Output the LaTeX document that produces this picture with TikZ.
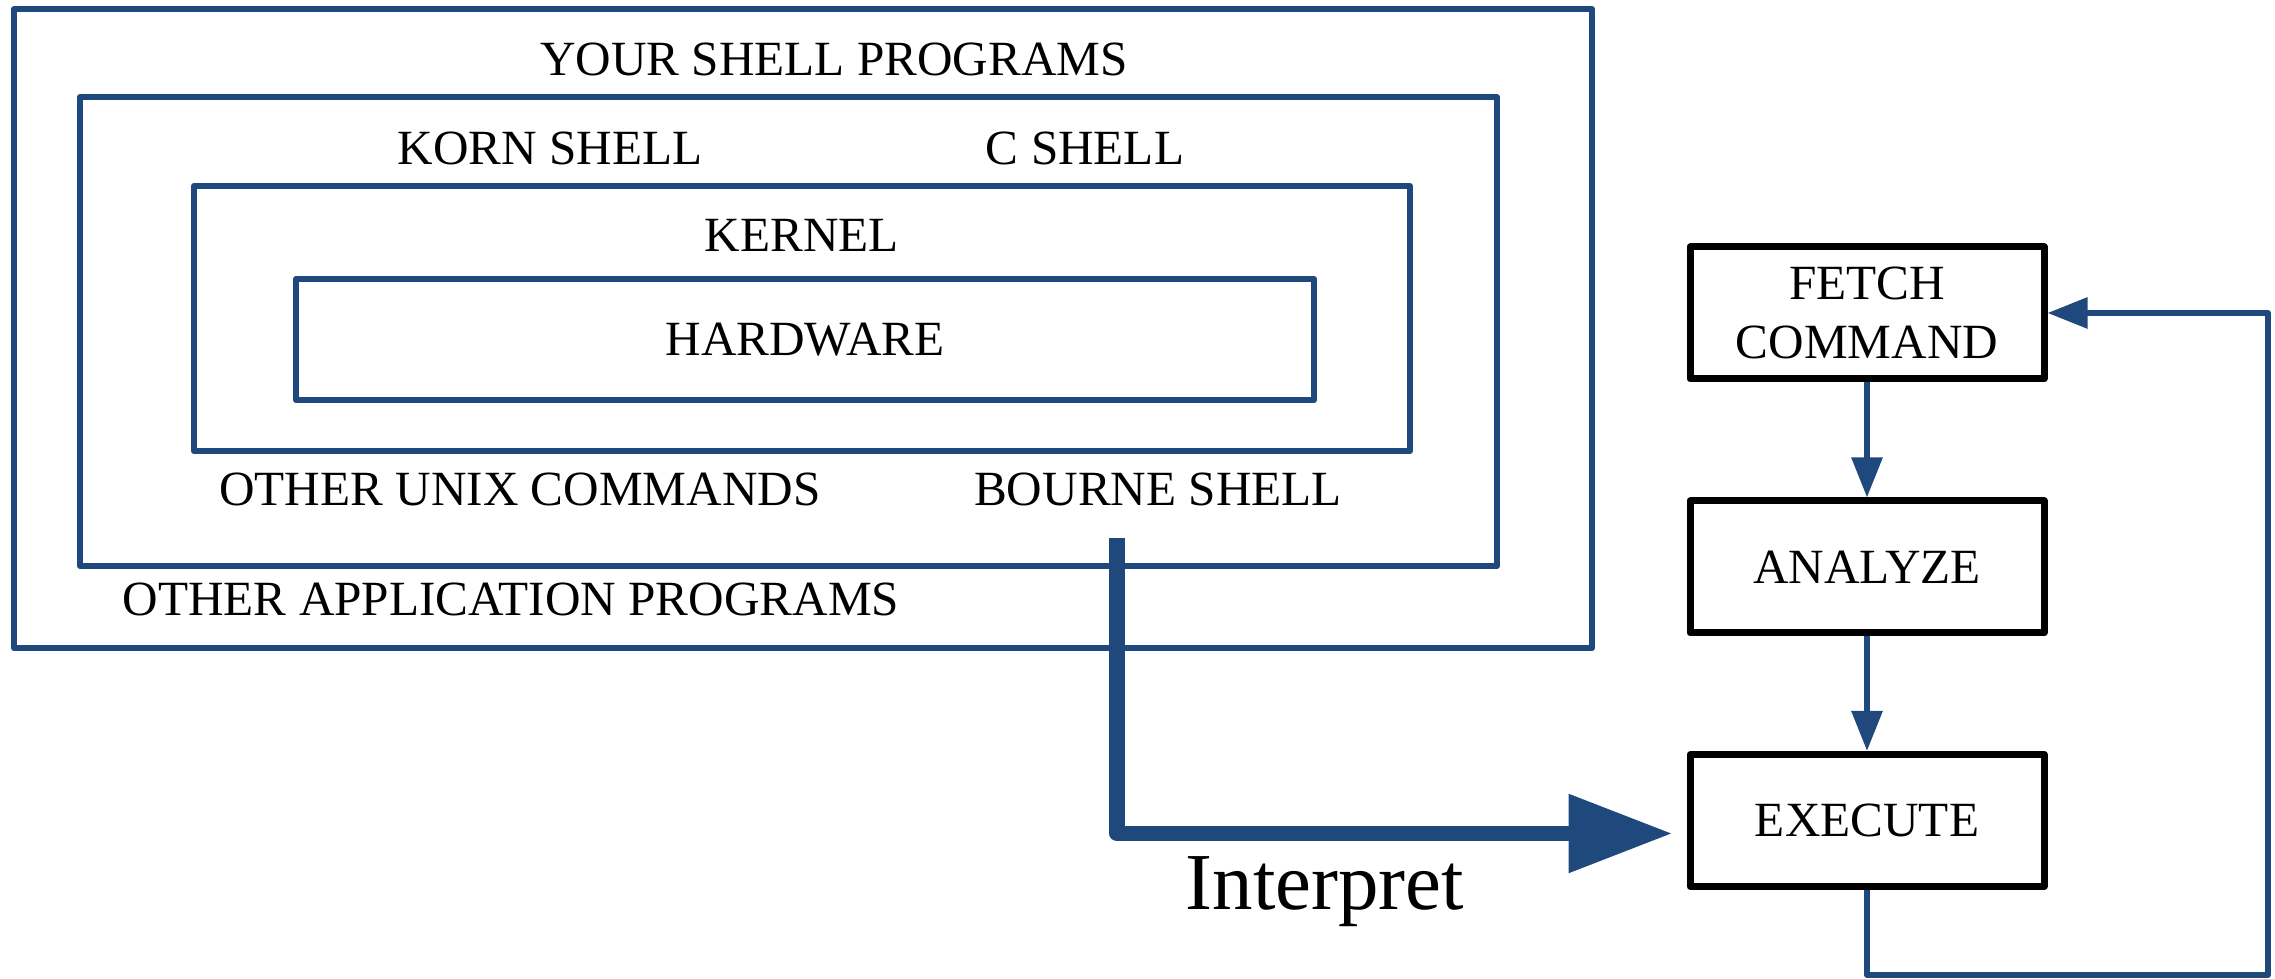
\documentclass[tikz,border=0pt]{standalone}
\usepackage{fontspec}
\setmainfont{Liberation Serif}
\usetikzlibrary{%
  positioning
 ,arrows.meta
}
\definecolor{shellblue}{RGB}{31,73,125}
\tikzstyle{diag}=[x=0.1mm,y=-0.1mm,on grid,line join=round,font=\fontsize{14}{16.8}\selectfont]
\tikzstyle{layer}=[rectangle,draw=shellblue,line width=0.6mm,inner sep=0pt]
\tikzstyle{lbl}=[inner sep=0pt,anchor=base]
\tikzstyle{stp}=[rectangle,draw=black,line width=0.7mm,minimum width=35.4mm,minimum height=13.2mm,inner sep=0pt,align=center]
\tikzstyle{flow}=[draw,color=shellblue,line width=0.6mm,-{Triangle[length=4mm,width=3mm]}]
\tikzstyle{interp}=[draw,color=shellblue,line width=1.55mm,-{Triangle[length=10.4mm,width=7.5mm]}]

\begin{document}
\begin{tikzpicture}[diag]
      \useasboundingbox (0,0) rectangle (2275,979);
      \node[layer,minimum width=157.8mm,minimum height=63.9mm] (l_0) at (803,328.5) {};
      \node[layer,minimum width=141.7mm,minimum height=46.9mm] (l_1) at (788.5,331.5) {};
      \node[layer,minimum width=121.6mm,minimum height=26.5mm] (l_2) at (802,318.5) {};
      \node[layer,minimum width=101.8mm,minimum height=12.1mm] (l_3) at (805,339.5) {HARDWARE};
      \node[lbl] (t_your) at (834,76) {YOUR SHELL PROGRAMS};
      \node[lbl] (t_korn) at (550,165) {KORN SHELL};
      \node[lbl] (t_csh) at (1085,165) {C SHELL};
      \node[lbl] (t_kern) at (802,252) {KERNEL};
      \node[lbl] (t_unix) at (520,506) {OTHER UNIX COMMANDS};
      \node[lbl] (t_bsh) at (1158,506) {BOURNE SHELL};
      \node[lbl] (t_app) at (511,616) {OTHER APPLICATION PROGRAMS};
      \node[lbl,font=\fontsize{23}{27}\selectfont] (t_int) at (1325,910) {Interpret};
      \coordinate (bsh_in) at (1117,538);
      \node[stp] (fetch) at (1867,313) {FETCH\\COMMAND};
      \node[stp] (analyze) [below=25.4mm of fetch] {ANALYZE};
      \node[stp] (execute) [below=25.35mm of analyze] {EXECUTE};
      \coordinate (loop_c) at (2268,975);
      \path[flow]
        (fetch) edge (analyze)
        (analyze) edge (execute);
      \draw[flow] (execute.south) |- (loop_c) |- (fetch.east);
      \draw[interp] (bsh_in) |- ([xshift=-1.4mm,yshift=-1.3mm]execute.west);
    \end{tikzpicture}
\end{document}
